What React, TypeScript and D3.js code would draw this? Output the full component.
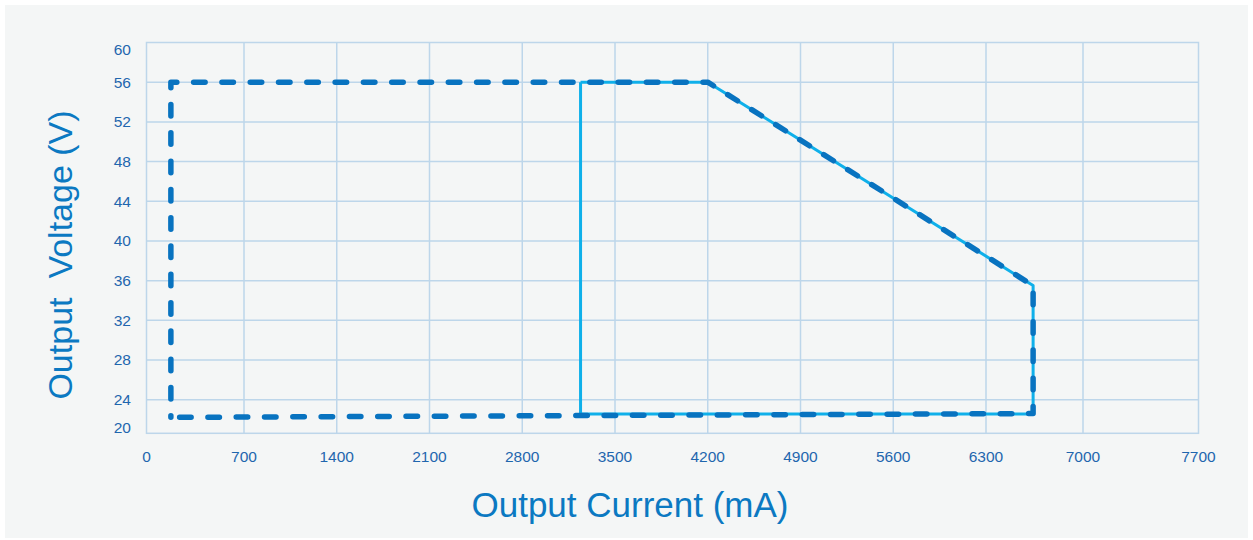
import React, { useEffect, useRef } from 'react';
import * as d3 from 'd3';

const width = 1253;
const height = 540;

const xTicks = [0, 700, 1400, 2100, 2800, 3500, 4200, 4900, 5600, 6300, 7000, 7700];
const yTicks = [20, 24, 28, 32, 36, 40, 44, 48, 52, 56, 60];

// dashed limit curve
const limitCurrent = [175, 175, 4200, 6640, 6640, 175];
const limitVoltage = [21.9, 56, 56, 35.5, 22.35, 21.9];

// solid operating area
const areaCurrent = [3240, 4200, 6640, 6640, 3240, 3240];
const areaVoltage = [56, 56, 35.5, 22.3, 22.3, 56];

const gridColor = '#bdd6ea';
const tickColor = '#1f66ae';
const titleColor = '#0b79c2';
const font = '"Liberation Sans", Arial, sans-serif';

const App = () => {
  const gridRef = useRef(null);
  const axisRef = useRef(null);
  const lineRef = useRef(null);

  // the source picture is not spaced evenly at its ends
  const x = d3
    .scaleLinear()
    .domain([0, 700, 6300, 7000, 7700])
    .range([146.5, 244, 986, 1083, 1198.5]);

  const y = d3.scaleLinear().domain([20, 24, 60]).range([433.3, 399.7, 42.5]);

  useEffect(() => {
    const g = d3.select(gridRef.current);
    g.selectAll('*').remove();
    g.selectAll('line.v')
      .data(xTicks.slice(1, -1))
      .join('line')
      .attr('x1', (d) => x(d))
      .attr('x2', (d) => x(d))
      .attr('y1', y(60))
      .attr('y2', y(20))
      .attr('stroke', gridColor)
      .attr('stroke-width', 1.5);
    g.selectAll('line.h')
      .data(yTicks.slice(1, -1))
      .join('line')
      .attr('x1', x(0))
      .attr('x2', x(7700))
      .attr('y1', (d) => y(d))
      .attr('y2', (d) => y(d))
      .attr('stroke', gridColor)
      .attr('stroke-width', 1.5);
    g.append('rect')
      .attr('x', x(0))
      .attr('y', y(60))
      .attr('width', x(7700) - x(0))
      .attr('height', y(20) - y(60))
      .attr('fill', 'none')
      .attr('stroke', gridColor)
      .attr('stroke-width', 1.5);
  }, []);

  useEffect(() => {
    const a = d3.select(axisRef.current);
    a.selectAll('*').remove();
    a.append('g')
      .selectAll('text')
      .data(xTicks)
      .join('text')
      .attr('x', (d) => x(d))
      .attr('y', 461.5)
      .attr('text-anchor', 'middle')
      .text((d) => d);
    a.append('g')
      .selectAll('text')
      .data(yTicks)
      .join('text')
      .attr('x', 131)
      .attr('y', (d) => Math.min(428, Math.max(50, y(d))))
      .attr('dy', '0.35em')
      .attr('text-anchor', 'end')
      .text((d) => d);
  }, []);

  useEffect(() => {
    const l = d3.select(lineRef.current);
    l.selectAll('*').remove();
    const line = d3
      .line<number>()
      .x((d) => x(d[0]))
      .y((d) => y(d[1]));

    l.append('path')
      .attr('d', line(d3.zip(areaCurrent, areaVoltage) as any))
      .attr('fill', 'none')
      .attr('stroke', '#0fb0ea')
      .attr('stroke-width', 3)
      .attr('stroke-linejoin', 'round');

    l.append('path')
      .attr('d', line(d3.zip(limitCurrent, limitVoltage) as any))
      .attr('fill', 'none')
      .attr('stroke', '#0873c0')
      .attr('stroke-width', 5.5)
      .attr('stroke-linecap', 'round')
      .attr('stroke-linejoin', 'round')
      .attr('stroke-dasharray', '11.5 16.8')
      .attr('stroke-dashoffset', 10);
  }, []);

  return (
    <svg
      width={width}
      height={height}
      style={{ position: 'absolute', left: 0, top: 0, fontFamily: font }}
    >
      <rect x={5} y={5} width={1243} height={533} fill="#f4f6f6" />
      <g ref={gridRef}></g>
      <g ref={axisRef} fill={tickColor} fontSize={15.5}></g>
      <g ref={lineRef}></g>
      <text
        x={630}
        y={517}
        textAnchor="middle"
        fill={titleColor}
        fontSize={35}
      >
        Output Current (mA)
      </text>
      <text
        transform="translate(72,255) rotate(-90)"
        textAnchor="middle"
        fill={titleColor}
        fontSize={34}
        style={{ whiteSpace: 'pre' }}
      >
        {'Output  Voltage (V)'}
      </text>
    </svg>
  );
};

export default App;
